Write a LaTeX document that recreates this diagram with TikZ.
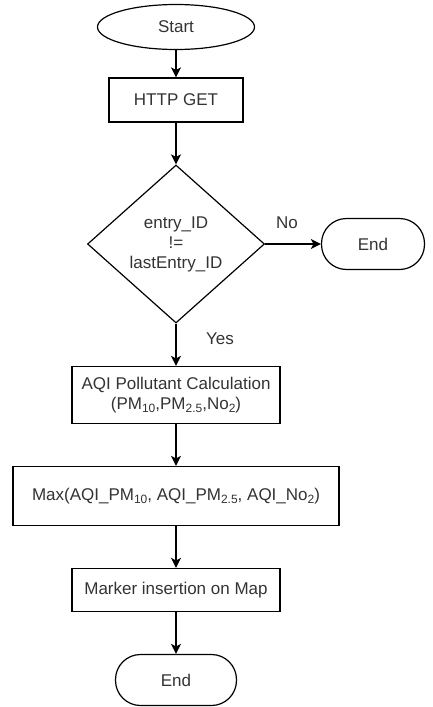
\documentclass[tikz,border=0pt]{standalone}
\usepackage{fontspec}
\setmainfont{Liberation Sans}
\usetikzlibrary{shapes.geometric,arrows.meta}
\definecolor{txt}{rgb}{0.2,0.2,0.2}
\newcommand{\sbs}[1]{\raisebox{-0.3ex}{\fontsize{12}{12}\selectfont #1}}
\begin{document}
\begin{tikzpicture}[x=1pt,y=-1pt,
  base/.style={draw=black, line width=1.2pt, text=txt, inner sep=0pt,
    font=\fontsize{17}{20}\selectfont, align=center},
  terminal/.style={base, ellipse},
  stadium/.style={base, rectangle, rounded corners=25pt},
  process/.style={base, rectangle},
  decision/.style={base, diamond, aspect=1.12},
  flow/.style={line width=1.2pt, -{Stealth[length=10pt,width=10pt,inset=2.5pt]}},
  lbl/.style={text=txt, font=\fontsize{17}{20}\selectfont}]
\useasboundingbox (0,0) rectangle (433,707);

\node[terminal, minimum width=157, minimum height=45] (start) at (176,27) {Start};
\node[process, minimum width=134, minimum height=44] (http) at (176,100) {HTTP GET};
\node[decision, minimum width=177, minimum height=158] (dec) at (176,244)
  {entry\_ID\\!=\\lastEntry\_ID};
\node[stadium, minimum width=103, minimum height=51] (endr) at (373,244) {End};
\node[process, minimum width=208, minimum height=57] (aqi) at (176,395)
  {AQI Pollutant Calculation\\(PM\sbs{10},PM\sbs{2.5},No\sbs{2})};
\node[process, minimum width=326, minimum height=59] (max) at (176,496)
  {Max(AQI\_PM\sbs{10}, AQI\_PM\sbs{2.5}, AQI\_No\sbs{2})};
\node[process, minimum width=208, minimum height=43] (marker) at (176,590)
  {Marker insertion on Map};
\node[stadium, minimum width=121, minimum height=51] (endb) at (176,680) {End};

\draw[flow] (start) -- (http);
\draw[flow] (http) -- (dec);
\draw[flow] (dec.east) -- (endr.west);
\draw[flow] (dec.south) -- (aqi.north);
\draw[flow] (aqi) -- (max);
\draw[flow] (max) -- (marker);
\draw[flow] (marker) -- (endb);

\node[lbl] (no) at (287,223) {No};
\node[lbl] (yes) at (220,339) {Yes};
\end{tikzpicture}
\end{document}
